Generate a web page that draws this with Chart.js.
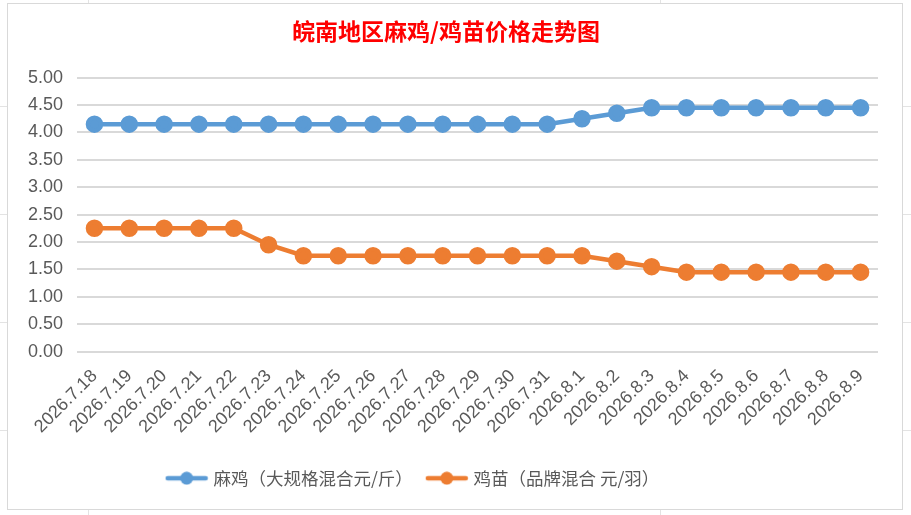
<!DOCTYPE html>
<html>
<head>
<meta charset="utf-8">
<script src="https://cdn.jsdelivr.net/npm/chart.js@4"></script>
<style>
  html, body { margin: 0; padding: 0; background: #fff; }
  body {
    width: 911px; height: 515px; overflow: hidden;
    background-image: linear-gradient(#e3e3e3 1px, transparent 1px), linear-gradient(90deg, #e3e3e3 1px, transparent 1px);
    background-size: 100% 108px, 572px 100%;
    background-position: 0 -2px, 88px 0;
  }
  .box {
    position: absolute; left: 7px; top: 3px; width: 894px; height: 505px;
    background: #fff; border: 1px solid #d9d9d9;
  }
</style>
</head>
<body>
<div class="box"><canvas id="chart" width="894" height="505"></canvas></div>
<script>
// 日期
const labels = ["2026.7.18", "2026.7.19", "2026.7.20", "2026.7.21", "2026.7.22", "2026.7.23", "2026.7.24",
  "2026.7.25", "2026.7.26", "2026.7.27", "2026.7.28", "2026.7.29", "2026.7.30", "2026.7.31",
  "2026.8.1", "2026.8.2", "2026.8.3", "2026.8.4", "2026.8.5", "2026.8.6", "2026.8.7", "2026.8.8", "2026.8.9"];
// 麻鸡 (大规格混合 元/斤)
const majiPrice = [4.15, 4.15, 4.15, 4.15, 4.15, 4.15, 4.15, 4.15, 4.15, 4.15, 4.15, 4.15, 4.15, 4.15,
  4.25, 4.35, 4.45, 4.45, 4.45, 4.45, 4.45, 4.45, 4.45];
// 鸡苗 (品牌混合 元/羽)
const jimiaoPrice = [2.25, 2.25, 2.25, 2.25, 2.25, 1.95, 1.75, 1.75, 1.75, 1.75, 1.75, 1.75, 1.75, 1.75,
  1.75, 1.65, 1.55, 1.45, 1.45, 1.45, 1.45, 1.45, 1.45];
const yTicks = [0, 0.5, 1, 1.5, 2, 2.5, 3, 3.5, 4, 4.5, 5];

const BLUE = "#5b9bd5";
const ORANGE = "#ed7d31";

// legend icon: line + circle like excel
function legendIcon(color) {
  const c = document.createElement("canvas");
  c.width = 44; c.height = 14;
  const ctx = c.getContext("2d");
  ctx.strokeStyle = color;
  ctx.lineWidth = 4.5;
  ctx.lineCap = "round";
  ctx.beginPath(); ctx.moveTo(3, 7); ctx.lineTo(41, 7); ctx.stroke();
  ctx.fillStyle = color;
  ctx.beginPath(); ctx.arc(22, 7, 6.5, 0, Math.PI * 2); ctx.fill();
  return c;
}

// legend sits a bit left of centre in the original
const legendShift = {
  id: "legendShift",
  afterLayout(c) {
    c.legend.left -= 32;
    c.legend.right -= 32;
  },
};

const chart = new Chart(document.getElementById("chart"), {
  type: "line",
  data: {
    labels: labels,
    datasets: [
      {
        label: "麻鸡（大规格混合元/斤）",
        data: majiPrice,
        borderColor: BLUE,
        backgroundColor: BLUE,
        borderWidth: 4.5,
        pointRadius: 6.5,
        pointHoverRadius: 6.5,
      },
      {
        label: "鸡苗（品牌混合 元/羽）",
        data: jimiaoPrice,
        borderColor: ORANGE,
        backgroundColor: ORANGE,
        borderWidth: 4.5,
        pointRadius: 6.5,
        pointHoverRadius: 6.5,
      },
    ],
  },
  options: {
    responsive: false,
    animation: false,
    layout: { padding: { left: 6, right: 24, top: 12, bottom: 12 } },
    plugins: {
      title: {
        display: true,
        text: "皖南地区麻鸡/鸡苗价格走势图",
        color: "#ff0000",
        font: { family: "'Noto Sans CJK SC'", size: 23, weight: "bold" },
        padding: { top: 1, bottom: 33 },
      },
      legend: {
        position: "bottom",
        labels: {
          usePointStyle: true,
          pointStyleWidth: 36,
          color: "#595959",
          font: { family: "'Noto Sans CJK SC'", size: 17.5 },
          padding: 16,
          boxHeight: 14,
          generateLabels: function (c) {
            return c.data.datasets.map((ds, i) => ({
              text: ds.label,
              fillStyle: ds.borderColor,
              strokeStyle: ds.borderColor,
              lineWidth: 0,
              pointStyle: legendIcon(ds.borderColor),
              datasetIndex: i,
              fontColor: "#595959",
            }));
          },
        },
      },
      tooltip: { enabled: false },
    },
    scales: {
      x: {
        offset: true,
        grid: { display: false },
        border: { display: false },
        afterFit: (scale) => { scale.height += 10; },
        ticks: {
          color: "#595959",
          font: { family: "'Liberation Sans Narrow', 'Liberation Sans'", size: 18 },
          maxRotation: 45,
          minRotation: 45,
          autoSkip: false,
          padding: 6,
        },
      },
      y: {
        min: 0,
        max: 5,
        afterBuildTicks: (axis) => { axis.ticks = yTicks.map((v) => ({ value: v })); },
        grid: { color: "#d9d9d9", lineWidth: 2, drawTicks: false },
        border: { display: false },
        ticks: {
          color: "#595959",
          font: { family: "'Liberation Sans Narrow', 'Liberation Sans'", size: 18 },
          padding: 14,
          callback: (v) => Number(v).toFixed(2),
        },
      },
    },
  },
  plugins: [legendShift],
});
</script>
</body>
</html>
